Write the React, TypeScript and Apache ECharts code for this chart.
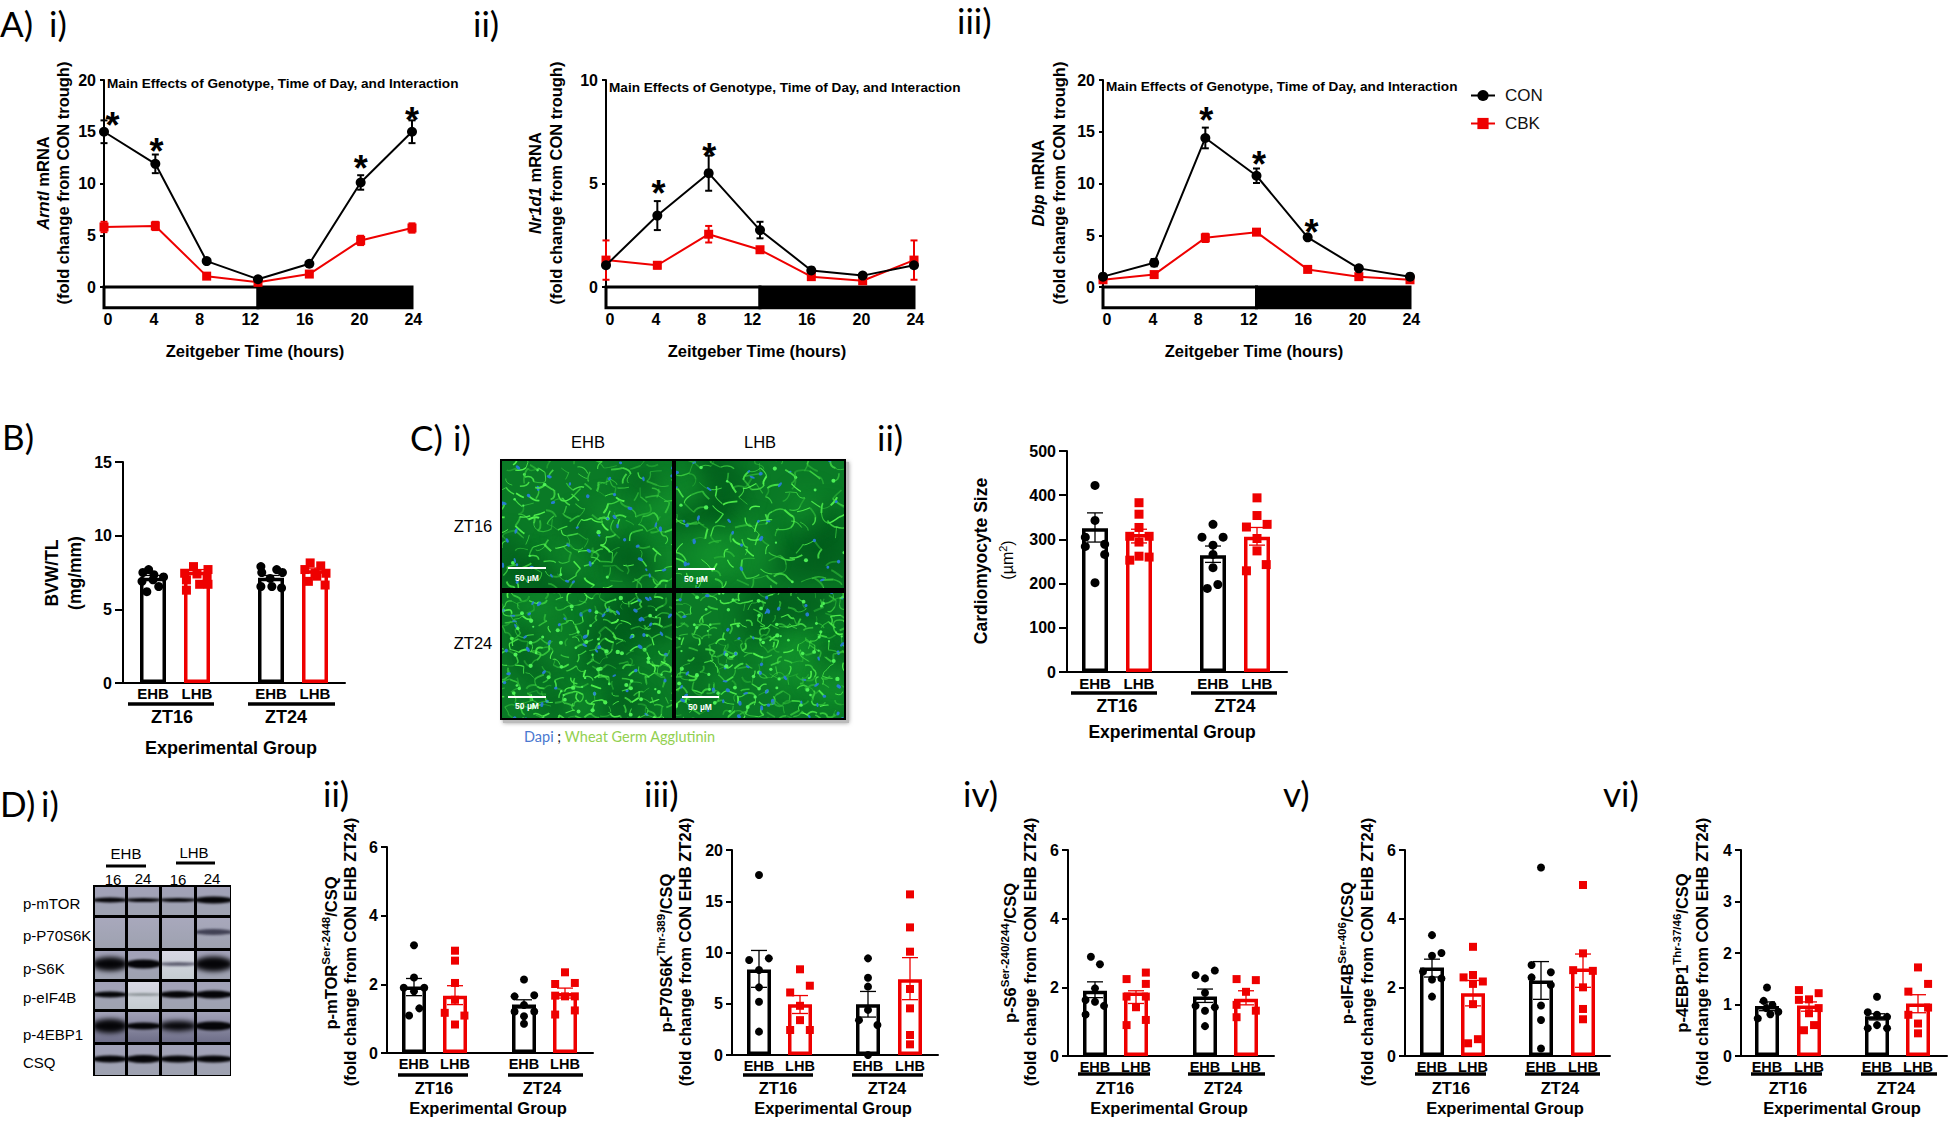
import React, { useEffect, useRef } from "react";
import * as echarts from "echarts";

const BLACK = "#000000";
const RED = "#ee0000";
const SANS = "'Liberation Sans', Arial, sans-serif";
const LABEL_FONT = "Lato, 'Noto Sans', sans-serif";

/* ---------- data: circadian time courses ---------- */
const zeitgeberHours = [0, 4, 8, 12, 16, 20, 24];
const zeitgeberLabels = ["0", "4", "8", "12", "16", "20", "24"];
const zeitgeberLabelAt = [0.3, 3.9, 7.45, 11.4, 15.65, 19.9, 24.1];
const lightDark = [[0, 12, 0], [12, 24, 1]];

const arntlCon = [15, 11.9, 2.5, 0.75, 2.25, 10.1, 15];
const arntlConErr = [1.1, 0.9, 0.2, 0.1, 0.2, 0.7, 1.1];
const arntlCbk = [5.8, 5.9, 1.05, 0.45, 1.25, 4.5, 5.7];
const arntlCbkErr = [0.5, 0.4, 0.1, 0.05, 0.1, 0.45, 0.45];
const arntlStars = [[0.67, 16.4], [4.1, 13.9], [20, 12.25], [24, 16.9]];

const nr1d1Con = [1.05, 3.45, 5.5, 2.75, 0.8, 0.55, 1.05];
const nr1d1ConErr = [0.1, 0.7, 0.85, 0.4, 0.1, 0.1, 0.1];
const nr1d1Cbk = [1.3, 1.05, 2.55, 1.8, 0.5, 0.3, 1.3];
const nr1d1CbkErr = [0.95, 0.15, 0.4, 0.1, 0.1, 0.1, 0.95];
const nr1d1Stars = [[4.1, 4.9], [8.05, 6.7]];

const dbpCon = [1, 2.35, 14.4, 10.75, 4.8, 1.8, 1];
const dbpConErr = [0.1, 0.35, 1, 0.7, 0.1, 0.1, 0.1];
const dbpCbk = [0.7, 1.2, 4.75, 5.3, 1.7, 1.0, 0.7];
const dbpCbkErr = [0.1, 0.1, 0.4, 0.1, 0.1, 0.1, 0.1];
const dbpStars = [[8.08, 16.9], [12.2, 12.6], [16.3, 6.05]];

/* ---------- data: bar panels ---------- */
const barLabels = ["EHB", "LHB", "EHB", "LHB"];

const bvwMeans = [7.15, 7.55, 7.15, 7.65];
const bvwLow = [7.0, 7.4, 7.0, 7.5];
const bvwHigh = [7.3, 7.7, 7.3, 7.8];
const bvwEhb16 = [[-0.23, 7.5], [-0.1, 7.7], [0.02, 7.35], [0.24, 7.2], [-0.14, 6.2], [0.13, 6.55], [-0.25, 6.9], [0, 7.0]];
const bvwLhb16 = [[-0.08, 7.9], [0.25, 7.7], [-0.28, 7.45], [0, 7.4], [0.23, 7.25], [-0.24, 6.3], [0.06, 6.7], [0.25, 6.7], [-0.24, 7.0]];
const bvwEhb24 = [[-0.23, 7.9], [-0.21, 7.5], [0.13, 7.7], [0.26, 7.5], [-0.23, 6.55], [0.02, 6.55], [0.24, 6.45], [-0.02, 7.1]];
const bvwLhb24 = [[-0.11, 8.15], [0.13, 7.95], [-0.23, 7.7], [0.25, 7.45], [-0.15, 6.9], [0.04, 7.25], [0.23, 6.65], [0, 7.45]];

const sizeMeans = [325, 312, 264, 306];
const sizeLow = [294, 292, 248, 287];
const sizeHigh = [360, 323, 285, 327];
const sizeEhb16 = [[0, 422], [0, 343], [-0.22, 305], [-0.22, 284], [0.22, 289], [0.22, 266], [0, 202]];
const sizeLhb16 = [[0, 383], [0, 357], [0, 327], [-0.21, 307], [0, 294], [0.23, 307], [0, 262], [-0.21, 253], [0.23, 260]];
const sizeEhb24 = [[0, 334], [-0.25, 305], [0.23, 305], [0, 287], [0, 266], [0, 236], [0.11, 198], [-0.13, 189]];
const sizeLhb24 = [[0, 394], [0, 354], [-0.24, 328], [0.23, 334], [0, 302], [0, 274], [0.21, 243], [-0.24, 229]];

const mtorMeans = [1.94, 1.67, 1.41, 1.75];
const mtorLow = [1.67, 1.41, 1.31, 1.6];
const mtorHigh = [2.17, 1.96, 1.55, 1.89];
const mtorEhb16 = [[0, 3.14], [0, 2.2], [-0.25, 1.9], [0.25, 1.9], [0, 1.8], [0.13, 1.3], [-0.12, 1.09]];
const mtorLhb16 = [[0, 2.98], [0, 2.69], [0, 2.04], [0, 1.55], [-0.25, 1.17], [0.23, 1.09], [0, 0.83]];
const mtorEhb24 = [[0, 2.14], [-0.23, 1.65], [0.25, 1.68], [0, 1.4], [-0.23, 1.21], [0.25, 1.21], [0, 1.07], [0, 0.85]];
const mtorLhb24 = [[0, 2.35], [-0.24, 2.01], [0.24, 2.04], [0, 1.65], [-0.24, 1.67], [0.24, 1.65], [-0.24, 1.12], [0.24, 1.24]];

const p70Means = [8.35, 4.95, 4.95, 7.4];
const p70Low = [6.6, 4.05, 3.7, 5.4];
const p70High = [10.2, 5.8, 6.2, 9.5];
const p70Ehb16 = [[0, 17.56], [-0.24, 9.27], [0.24, 9.43], [0, 8.3], [0, 6.6], [0, 5.2], [0, 2.28]];
const p70Lhb16 = [[0, 8.36], [0.24, 6.76], [-0.24, 6.1], [0, 4.8], [0, 3.4], [-0.24, 2.44], [0.24, 2.44]];
const p70Ehb24 = [[0, 9.43], [0, 7.54], [0, 6.67], [0, 4.4], [-0.22, 3.4], [0.23, 2.93], [0, 0]];
const p70Lhb24 = [[0, 15.67], [0, 12.45], [0, 10.08], [0, 6.44], [0, 4.55], [0, 1.95], [0, 1.04]];

const s6Means = [1.9, 1.85, 1.73, 1.67];
const s6Low = [1.7, 1.53, 1.56, 1.49];
const s6High = [2.16, 1.9, 1.95, 1.9];
const s6Ehb16 = [[-0.1, 2.89], [0.12, 2.67], [0, 1.97], [-0.23, 1.63], [0, 1.58], [0.22, 1.46], [-0.23, 1.21]];
const s6Lhb16 = [[0.24, 2.43], [-0.23, 2.24], [0.24, 2.1], [-0.23, 1.73], [0.24, 1.73], [0, 1.42], [-0.23, 0.9], [0.24, 1.05]];
const s6Ehb24 = [[0.24, 2.49], [-0.23, 2.36], [0, 2.26], [0, 1.84], [-0.23, 1.46], [0.24, 1.42], [0, 1.32], [0, 0.87]];
const s6Lhb24 = [[-0.23, 2.24], [0.24, 2.21], [0, 1.87], [-0.23, 1.49], [0.24, 1.32], [-0.23, 1.13]];

const eifMeans = [2.58, 1.83, 2.2, 2.55];
const eifLow = [2.3, 1.46, 1.65, 2.0];
const eifHigh = [2.82, 2.2, 2.75, 2.97];
const eifEhb16 = [[0, 3.52], [0, 2.92], [0.23, 3.0], [-0.22, 2.46], [0, 2.23], [0.23, 2.26], [0, 1.73]];
const eifLhb16 = [[0, 3.18], [-0.23, 2.29], [0, 2.36], [0.24, 2.17], [0, 2.1], [0, 1.51], [0.12, 0.49], [-0.12, 0.37]];
const eifEhb24 = [[0, 5.49], [-0.23, 2.65], [0.24, 2.44], [-0.23, 2.29], [0.24, 2.07], [0, 1.47], [0, 1.05], [0, 0.22]];
const eifLhb24 = [[0, 4.98], [0, 2.99], [-0.24, 2.5], [0.24, 2.48], [0, 2.0], [0, 1.37], [0, 1.07]];

const ebpMeans = [0.97, 0.98, 0.77, 1.02];
const ebpLow = [0.88, 0.87, 0.7, 0.84];
const ebpHigh = [1.05, 1.05, 0.82, 1.19];
const ebpEhb16 = [[0, 1.33], [-0.08, 1.07], [0.13, 0.99], [-0.22, 0.73], [0.08, 0.81], [-0.02, 0.93], [0.27, 0.86]];
const ebpLhb16 = [[-0.24, 1.28], [0.23, 1.22], [-0.24, 1.09], [0, 1.1], [0.23, 0.93], [0, 0.83], [0.12, 0.6], [-0.12, 0.5]];
const ebpEhb24 = [[0, 1.15], [-0.22, 0.85], [0, 0.8], [0.24, 0.76], [-0.22, 0.54], [0, 0.6], [0.24, 0.54]];
const ebpLhb24 = [[0, 1.72], [0.24, 1.4], [-0.23, 1.25], [0.24, 0.94], [-0.23, 0.8], [0, 0.63], [0, 0.44]];

/* ---------- western blot appearance: band thickness per row and lane ---------- */
const blotNames = ["p-mTOR", "p-P70S6K", "p-S6K", "p-eIF4B", "p-4EBP1", "CSQ"];
const blotBands = [
  [4, 3, 3, 6],
  [0, 0, 0, 5],
  [13, 8, 3, 14],
  [5, 1, 6, 7],
  [13, 6, 9, 8],
  [6, 7, 6, 6],
];

/* ---------- layouts ---------- */
const lineLayouts = [
  {
    left: 104, right: 412, top: 80, zero: 287, yMax: 20, yInt: 5, low: -2,
    con: arntlCon, conErr: arntlConErr, cbk: arntlCbk, cbkErr: arntlCbkErr, stars: arntlStars,
    effect: [107, 83], gene: "Arntl", t1: 43, t2: 63, tx: 255,
  },
  {
    left: 606, right: 914, top: 80, zero: 287, yMax: 10, yInt: 5, low: -1,
    con: nr1d1Con, conErr: nr1d1ConErr, cbk: nr1d1Cbk, cbkErr: nr1d1CbkErr, stars: nr1d1Stars,
    effect: [609, 87], gene: "Nr1d1", t1: 535, t2: 556, tx: 757,
  },
  {
    left: 1103, right: 1410, top: 80, zero: 287, yMax: 20, yInt: 5, low: -2,
    con: dbpCon, conErr: dbpConErr, cbk: dbpCbk, cbkErr: dbpCbkErr, stars: dbpStars,
    effect: [1106, 86], gene: "Dbp", t1: 1038, t2: 1059, tx: 1254,
  },
];

const barLayouts = [
  {
    axisX: 123, axisEnd: 345, top: 462, zero: 683, yMax: 15, yInt: 5, barW: 26, sym: 9, centers: [153, 197, 271, 315],
    means: bvwMeans, low: bvwLow, high: bvwHigh, points: [bvwEhb16, bvwLhb16, bvwEhb24, bvwLhb24],
    tickFont: 15, tick: 8, margin: 11, labelGap: 3, groupLines: [[128, 214], [248, 335]], lineY: 704, groupX: [172, 286], groupY: 717, expX: 231, expY: 748, fs: 18,
  },
  {
    axisX: 1067, axisEnd: 1287, top: 451, zero: 672, yMax: 500, yInt: 100, barW: 26, sym: 9, centers: [1095, 1139, 1213, 1257],
    means: sizeMeans, low: sizeLow, high: sizeHigh, points: [sizeEhb16, sizeLhb16, sizeEhb24, sizeLhb24],
    tickFont: 15, tick: 8, margin: 11, labelGap: 4, groupLines: [[1071, 1157], [1191, 1277]], lineY: 693, groupX: [1117, 1235], groupY: 706, expX: 1172, expY: 732, fs: 17.5,
  },
  {
    axisX: 387, axisEnd: 593, top: 847, zero: 1053, yMax: 6, yInt: 2, barW: 24, sym: 8, centers: [414, 455, 524, 565],
    means: mtorMeans, low: mtorLow, high: mtorHigh, points: [mtorEhb16, mtorLhb16, mtorEhb24, mtorLhb24],
    tickFont: 14.5, tick: 6, margin: 9, labelGap: 3, groupLines: [[398, 468], [508, 583]], lineY: 1075, groupX: [434, 542], groupY: 1088, expX: 488, expY: 1108, fs: 16.5,
    title: ["p-mTOR", "Ser-2448", "/CSQ"], t1: 331, t2: 350,
  },
  {
    axisX: 732, axisEnd: 938, top: 850, zero: 1055, yMax: 20, yInt: 5, barW: 24, sym: 8, centers: [759, 800, 868, 910],
    means: p70Means, low: p70Low, high: p70High, points: [p70Ehb16, p70Lhb16, p70Ehb24, p70Lhb24],
    tickFont: 14.5, tick: 6, margin: 9, labelGap: 3, groupLines: [[743, 813], [852, 923]], lineY: 1075, groupX: [778, 887], groupY: 1088, expX: 833, expY: 1108, fs: 16.5,
    title: ["p-P70S6K", "Thr-389", "/CSQ"], t1: 666, t2: 685,
  },
  {
    axisX: 1068, axisEnd: 1274, top: 850, zero: 1056, yMax: 6, yInt: 2, barW: 24, sym: 8, centers: [1095, 1136, 1205, 1246],
    means: s6Means, low: s6Low, high: s6High, points: [s6Ehb16, s6Lhb16, s6Ehb24, s6Lhb24],
    tickFont: 14.5, tick: 6, margin: 9, labelGap: 3, groupLines: [[1078, 1150], [1188, 1265]], lineY: 1074, groupX: [1115, 1223], groupY: 1088, expX: 1169, expY: 1108, fs: 16.5,
    title: ["p-S6", "Ser-240/244", "/CSQ"], t1: 1010, t2: 1030,
  },
  {
    axisX: 1405, axisEnd: 1610, top: 850, zero: 1056, yMax: 6, yInt: 2, barW: 24, sym: 8, centers: [1432, 1473, 1541, 1583],
    means: eifMeans, low: eifLow, high: eifHigh, points: [eifEhb16, eifLhb16, eifEhb24, eifLhb24],
    tickFont: 14.5, tick: 6, margin: 9, labelGap: 3, groupLines: [[1415, 1486], [1525, 1600]], lineY: 1074, groupX: [1451, 1560], groupY: 1088, expX: 1505, expY: 1108, fs: 16.5,
    title: ["p-eIF4B", "Ser-406", "/CSQ"], t1: 1347, t2: 1367,
  },
  {
    axisX: 1741, axisEnd: 1947, top: 850, zero: 1056, yMax: 4, yInt: 1, barW: 24, sym: 8, centers: [1767, 1809, 1877, 1918],
    means: ebpMeans, low: ebpLow, high: ebpHigh, points: [ebpEhb16, ebpLhb16, ebpEhb24, ebpLhb24],
    tickFont: 14.5, tick: 6, margin: 9, labelGap: 3, groupLines: [[1751, 1822], [1861, 1937]], lineY: 1074, groupX: [1788, 1896], groupY: 1088, expX: 1842, expY: 1108, fs: 16.5,
    title: ["p-4EBP1", "Thr-37/46", "/CSQ"], t1: 1682, t2: 1702,
  },
];

const panelTags: [string, number, number][] = [
  ["A)", 0, 23], ["i)", 49, 23], ["ii)", 473, 23], ["iii)", 957, 20],
  ["B)", 2, 436], ["C)", 410, 437], ["i)", 453, 437], ["ii)", 877, 437],
  ["D)", 0, 803], ["i)", 41, 803], ["ii)", 323, 793], ["iii)", 644, 793],
  ["iv)", 963, 793], ["v)", 1283, 793], ["vi)", 1603, 793],
];

/* ---------- procedural stand-ins for the two photographs ---------- */
function makeHistology() {
  const W = 346, H = 261;
  const c = document.createElement("canvas");
  c.width = W; c.height = H;
  const g = c.getContext("2d") as CanvasRenderingContext2D;
  g.fillStyle = "#000";
  g.fillRect(0, 0, W, H);
  let seed = 91;
  const next = () => { seed = (seed * 16807) % 2147483647; return seed / 2147483647; };
  const tiles = [[2, 2, 170, 127, 0, 21, 16], [176, 2, 168, 127, 0, 24, 18], [2, 134, 170, 125, 1, 18, 13], [176, 134, 168, 125, 1, 18, 13]];
  tiles.forEach(([x, y, w, h, dense, cw, ch]) => {
    g.save();
    g.beginPath(); g.rect(x, y, w, h); g.clip();
    g.fillStyle = "#0a7a26";
    g.fillRect(x, y, w, h);
    g.filter = "blur(10px)";
    for (let i = 0; i < 14; i++) {
      g.fillStyle = next() > 0.5 ? "rgba(0,85,25,0.55)" : "rgba(20,150,45,0.5)";
      g.beginPath();
      g.arc(x + next() * w, y + next() * h, 12 + next() * 20, 0, Math.PI * 2);
      g.fill();
    }
    g.filter = "blur(0.7px)";
    const lean = next() * 1.2 - 0.6;
    for (let row = -1; row <= h / ch + 1; row++) {
      for (let col = -1; col <= w / cw + 1; col++) {
        const cx = x + (col + (row % 2 ? 0.5 : 0)) * cw + (next() - 0.5) * 10;
        const cy = y + row * ch + (next() - 0.5) * 8;
        const verts: number[][] = [];
        for (let k = 0; k < 6; k++) {
          const a = (k / 6) * Math.PI * 2 + lean;
          const r = 0.7 + next() * 0.5;
          verts.push([cx + Math.cos(a) * r * cw * 0.56, cy + Math.sin(a) * r * ch * 0.58]);
        }
        for (let k = 0; k < 6; k++) {
          if (next() < 0.45) continue;
          const p = verts[k], q = verts[(k + 1) % 6];
          g.beginPath();
          g.moveTo(p[0], p[1]);
          g.quadraticCurveTo((p[0] + q[0]) / 2 + (next() - 0.5) * 9, (p[1] + q[1]) / 2 + (next() - 0.5) * 9, q[0], q[1]);
          const v = next();
          g.strokeStyle = `rgba(${45 + v * 40},${185 + v * 65},${55 + v * 25},${0.5 + v * 0.45})`;
          g.lineWidth = 0.8 + next() * 1.2;
          g.stroke();
        }
        if (next() < (dense ? 0.7 : 0.28)) {
          const p = verts[Math.floor(next() * 6)];
          g.beginPath();
          g.arc(p[0], p[1], 1 + next() * 1.2, 0, Math.PI * 2);
          g.fillStyle = "rgba(80,245,90,0.95)";
          g.fill();
        }
        if (next() < 0.5) {
          const p = verts[Math.floor(next() * 6)];
          g.beginPath();
          g.ellipse(p[0], p[1], 1.5 + next() * 1.4, 1 + next() * 0.9, next() * 3, 0, Math.PI * 2);
          g.fillStyle = "rgba(40,125,215,0.95)";
          g.fill();
        }
      }
    }
    g.restore();
  });
  return c.toDataURL("image/png");
}

function makeBlot() {
  const W = 138, H = 191;
  const c = document.createElement("canvas");
  c.width = W; c.height = H;
  const g = c.getContext("2d") as CanvasRenderingContext2D;
  g.fillStyle = "#000";
  g.fillRect(0, 0, W, H);
  const rows = [0, 31, 64, 95, 125, 158, 191];
  const cols = [0, 33, 67, 102, 138];
  blotBands.forEach((row, r) => {
    row.forEach((t, l) => {
      const x = cols[l] + 2, y = rows[r] + 2, w = cols[l + 1] - cols[l] - 3, h = rows[r + 1] - rows[r] - 3;
      g.save();
      g.beginPath(); g.rect(x, y, w, h); g.clip();
      const light = (r === 2 && l === 2) || (r === 3 && l === 1);
      const grad = g.createLinearGradient(0, y, 0, y + h);
      grad.addColorStop(0, light ? "#d8d8e4" : r === 1 ? "#a8a8bc" : "#a2a2b8");
      grad.addColorStop(1, light ? "#c4ccd0" : r === 4 ? "#6e6e88" : "#9ea2b0");
      g.fillStyle = grad;
      g.fillRect(x, y, w, h);
      if (t > 0) {
        g.filter = t > 8 ? "blur(2.5px)" : "blur(1.2px)";
        g.fillStyle = t <= 1 ? "rgba(90,100,100,0.8)" : t === 3 && r === 2 ? "rgba(70,70,90,0.8)" : r === 1 ? "rgba(40,40,60,0.8)" : "#050508";
        g.beginPath();
        g.ellipse(x + w / 2, y + h / 2 - 1, w / 2 + 3, t / 2 + 0.5, 0, 0, Math.PI * 2);
        g.fill();
      }
      g.restore();
    });
  });
  return c.toDataURL("image/png");
}

/* ---------- graphic helpers ---------- */
function txt(text: string, x: number, y: number, o: any = {}) {
  return {
    type: "text", x, y, rotation: o.rotation || 0, silent: true, z: 10,
    style: {
      text, x: 0, y: 0,
      align: o.align || "center", verticalAlign: "middle",
      fontFamily: o.family || SANS, fontSize: o.size || 15, fontWeight: o.weight || "bold",
      fill: o.color || BLACK, rich: o.rich,
    },
  };
}
function hline(x1: number, x2: number, y: number, w = 3.5, color = BLACK) {
  return { type: "line", silent: true, z: 10, shape: { x1, y1: y, x2, y2: y }, style: { stroke: color, lineWidth: w } };
}
const UP = Math.PI / 2;
const TITLE_SIZE = 16.5;
const boldStyle = { fontFamily: SANS, fontWeight: "bold", fontSize: TITLE_SIZE, fill: BLACK };

function buildGraphics() {
  const els: any[] = [];
  panelTags.forEach(([t, x, y]) => els.push(txt(t, x, y, { align: "left", size: 35, weight: "normal", family: LABEL_FONT })));

  lineLayouts.forEach((p) => {
    els.push(txt("Main Effects of Genotype, Time of Day, and Interaction", p.effect[0], p.effect[1], { align: "left", size: 13.6 }));
    els.push(txt(`{i|${p.gene}}{b| mRNA}`, p.t1, 183, {
      rotation: UP,
      rich: { i: { ...boldStyle, fontStyle: "italic" }, b: boldStyle },
    }));
    els.push(txt("(fold change from CON trough)", p.t2, 183, { rotation: UP, size: TITLE_SIZE }));
    els.push(txt("Zeitgeber Time (hours)", p.tx, 351, { size: TITLE_SIZE }));
  });

  barLayouts.forEach((p: any) => {
    p.groupLines.forEach((g: number[], i: number) => {
      els.push(hline(g[0], g[1], p.lineY));
      els.push(txt(i === 0 ? "ZT16" : "ZT24", p.groupX[i], p.groupY, { size: p.fs }));
    });
    els.push(txt("Experimental Group", p.expX, p.expY, { size: p.fs }));
    if (p.title) {
      els.push(txt(`{b|${p.title[0]}}{s|${p.title[1]}}{b|${p.title[2]}}`, p.t1, 953, {
        rotation: UP,
        rich: { b: boldStyle, s: { ...boldStyle, fontSize: 11.5, verticalAlign: "top", padding: [0, 0, 10, 0] } },
      }));
      els.push(txt("(fold change from CON EHB ZT24)", p.t2, 952, { rotation: UP, size: TITLE_SIZE }));
    }
  });

  // panel B and C ii axis titles
  els.push(txt("BVW/TL", 52, 573, { rotation: UP, size: 17.5 }));
  els.push(txt("(mg/mm)", 75, 573, { rotation: UP, size: 17.5 }));
  els.push(txt("Cardiomyocyte Size", 981, 561, { rotation: UP, size: 17.5 }));
  els.push(txt("{a|(}{m|\u00b5m}{s|2}{a|)}", 1007, 560, {
    rotation: UP,
    rich: {
      a: { ...boldStyle, fontWeight: "normal", fontSize: 16 },
      m: { ...boldStyle, fontWeight: "normal", fontSize: 16 },
      s: { ...boldStyle, fontWeight: "normal", fontSize: 11, verticalAlign: "top", padding: [0, 0, 9, 0] },
    },
  }));

  // panel C i: micrograph
  els.push({ type: "rect", silent: true, z: 4, shape: { x: 503, y: 462, width: 346, height: 261 }, style: { fill: "#bbbbbb", shadowBlur: 4, shadowColor: "#999" } });
  els.push({ type: "image", silent: true, z: 5, x: 500, y: 459, style: { image: makeHistology(), x: 0, y: 0, width: 346, height: 261 } });
  els.push(txt("EHB", 588, 442, { size: 16.5, weight: "normal" }));
  els.push(txt("LHB", 760, 442, { size: 16.5, weight: "normal" }));
  els.push(txt("ZT16", 473, 526, { size: 16.5, weight: "normal" }));
  els.push(txt("ZT24", 473, 643, { size: 16.5, weight: "normal" }));
  const scaleBars = [[508, 546, 568, 527, 578], [678, 715, 569, 696, 579], [508, 546, 697, 527, 706], [682, 719, 697, 700, 707]];
  scaleBars.forEach(([a, b, y, tx, ty]) => {
    els.push(hline(a, b, y, 2, "#ffffff"));
    els.push(txt("50 \u00b5M", tx, ty, { size: 8.5, color: "#ffffff" }));
  });
  els.push(txt("{d|Dapi}{k| ; }{w|Wheat Germ Agglutinin}", 524, 736, {
    align: "left",
    rich: {
      d: { fontFamily: LABEL_FONT, fontSize: 14.5, fill: "#4a78d0" },
      k: { fontFamily: LABEL_FONT, fontSize: 14.5, fill: "#222222" },
      w: { fontFamily: LABEL_FONT, fontSize: 14.5, fill: "#92d050" },
    },
  }));

  // panel D i: blot
  els.push({ type: "image", silent: true, z: 5, x: 93, y: 885, style: { image: makeBlot(), x: 0, y: 0, width: 138, height: 191 } });
  const blotY = [903, 935, 968, 997, 1034, 1062];
  blotNames.forEach((n, i) => els.push(txt(n, 23, blotY[i], { align: "left", size: 15, weight: "normal" })));
  els.push(txt("EHB", 126, 853, { size: 15, weight: "normal" }));
  els.push(txt("LHB", 194, 852, { size: 15, weight: "normal" }));
  els.push(hline(106, 146, 866, 3));
  els.push(hline(176, 215, 863, 3));
  [[113, 879, "16"], [143, 878, "24"], [178, 879, "16"], [212, 878, "24"]].forEach(([x, y, s]) =>
    els.push(txt(s as string, x as number, y as number, { size: 15, weight: "normal" })));
  return els;
}

/* ---------- series helpers ---------- */
const errorBars = (grid: number, rows: number[][], color: string, cap: number, w: number) => ({
  type: "custom", xAxisIndex: grid, yAxisIndex: grid, clip: false, z: 3, silent: true, data: rows,
  encode: { x: 0, y: [1, 2] },
  renderItem: (_: any, api: any) => {
    const x = api.value(0);
    const a = api.coord([x, api.value(1)]);
    const b = api.coord([x, api.value(2)]);
    const style = { stroke: color, lineWidth: w, fill: "none" };
    return {
      type: "group", children: [
        { type: "line", shape: { x1: a[0], y1: a[1], x2: b[0], y2: b[1] }, style },
        { type: "line", shape: { x1: a[0] - cap, y1: a[1], x2: a[0] + cap, y2: a[1] }, style },
        { type: "line", shape: { x1: b[0] - cap, y1: b[1], x2: b[0] + cap, y2: b[1] }, style },
      ],
    };
  },
});

const yAxisBase = (grid: number, yMax: number, yInt: number, tick: number, margin: number) => ({
  type: "value", gridIndex: grid, min: 0, max: yMax, interval: yInt, position: "left",
  splitLine: { show: false },
  axisLine: { show: true, onZero: false, lineStyle: { color: BLACK, width: 2 } },
  axisTick: { show: true, length: tick, lineStyle: { color: BLACK, width: 2 } },
  axisLabel: { color: BLACK, fontFamily: SANS, fontWeight: "bold", fontSize: 16, margin },
});

function buildOption() {
  const grid: any[] = [], xAxis: any[] = [], yAxis: any[] = [], series: any[] = [];
  lineLayouts.forEach((p) => {
    const i = grid.length;
    const unit = (p.right - p.left) / 24;
    grid.push({ left: p.left, top: p.top, width: unit * 25, height: p.zero - p.top });
    xAxis.push({
      type: "value", gridIndex: i, min: 0, max: 25, splitLine: { show: false },
      axisLine: { show: false, onZero: false }, axisTick: { show: false },
      axisLabel: {
        customValues: zeitgeberLabelAt, color: BLACK, fontFamily: SANS, fontWeight: "bold", fontSize: 16, margin: 24,
        formatter: (v: number) => zeitgeberLabels[zeitgeberLabelAt.indexOf(v)],
      },
    });
    yAxis.push(yAxisBase(i, p.yMax, p.yInt, 4, 8));
    series.push({
      type: "custom", xAxisIndex: i, yAxisIndex: i, clip: false, z: 1, silent: true, data: lightDark,
      encode: { x: [0, 1] },
      renderItem: (_: any, api: any) => {
        const a = api.coord([api.value(0), 0]);
        const b = api.coord([api.value(1), p.low]);
        return {
          type: "rect",
          shape: { x: a[0], y: a[1], width: b[0] - a[0], height: b[1] - a[1] },
          style: { fill: api.value(2) ? BLACK : "#ffffff", stroke: BLACK, lineWidth: 3 },
        };
      },
    });
    series.push(errorBars(i, zeitgeberHours.map((h, k) => [h, p.con[k] - p.conErr[k], p.con[k] + p.conErr[k]]), BLACK, 3.5, 2));
    series.push(errorBars(i, zeitgeberHours.map((h, k) => [h, p.cbk[k] - p.cbkErr[k], p.cbk[k] + p.cbkErr[k]]), RED, 3.5, 2));
    series.push({
      name: "CBK", type: "line", xAxisIndex: i, yAxisIndex: i, clip: false, z: 4, symbol: "rect", symbolSize: 9,
      lineStyle: { color: RED, width: 2 }, itemStyle: { color: RED },
      data: zeitgeberHours.map((h, k) => [h, p.cbk[k]]),
    });
    series.push({
      name: "CON", type: "line", xAxisIndex: i, yAxisIndex: i, clip: false, z: 5, symbol: "circle", symbolSize: 10,
      lineStyle: { color: BLACK, width: 2 }, itemStyle: { color: BLACK },
      data: zeitgeberHours.map((h, k) => [h, p.con[k]]),
    });
    series.push({
      type: "scatter", xAxisIndex: i, yAxisIndex: i, clip: false, z: 6, symbolSize: 0, silent: true,
      itemStyle: { opacity: 1 },
      data: p.stars,
      label: {
        show: true, position: "inside", formatter: "*", color: BLACK, opacity: 1, offset: [0, 8],
        fontFamily: SANS, fontWeight: "bold", fontSize: 36,
      },
    });
  });

  barLayouts.forEach((p) => {
    const i = grid.length;
    const u = p.centers[1] - p.centers[0];
    const slots = p.centers.map((c) => (c - p.centers[0]) / u);
    grid.push({ left: p.axisX, top: p.top, width: p.axisEnd - p.axisX, height: p.zero - p.top });
    xAxis.push({
      type: "value", gridIndex: i, min: (p.axisX - p.centers[0]) / u, max: (p.axisEnd - p.centers[0]) / u,
      splitLine: { show: false }, axisTick: { show: false },
      axisLine: { show: true, onZero: false, lineStyle: { color: BLACK, width: 2 } },
      axisLabel: {
        customValues: slots, color: BLACK, fontFamily: SANS, fontWeight: "bold", fontSize: p.tickFont, margin: p.labelGap,
        formatter: (v: number) => barLabels[slots.indexOf(v)],
      },
    });
    yAxis.push(yAxisBase(i, p.yMax, p.yInt, p.tick, p.margin));
    series.push({
      type: "bar", xAxisIndex: i, yAxisIndex: i, barWidth: p.barW, z: 2, silent: true, clip: false,
      data: slots.map((s, k) => ({
        value: [s, p.means[k]],
        itemStyle: { color: "rgba(255,255,255,0)", borderColor: k % 2 ? RED : BLACK, borderWidth: 3.5 },
      })),
    });
    [0, 1].forEach((odd) => {
      const idx = odd ? [1, 3] : [0, 2];
      const color = odd ? RED : BLACK;
      const pts: number[][] = [];
      idx.forEach((k) => p.points[k].forEach(([dx, v]) => pts.push([slots[k] + dx, v])));
      series.push({
        type: "scatter", xAxisIndex: i, yAxisIndex: i, clip: false, z: 3, silent: true,
        symbol: odd ? "rect" : "circle", symbolSize: p.sym, itemStyle: { color, opacity: 1 }, data: pts,
      });
      series.push(errorBars(i, idx.map((k) => [slots[k], p.low[k], p.high[k]]), color, 8, 1.3));
    });
  });

  return {
    animation: false,
    backgroundColor: "#ffffff",
    grid, xAxis, yAxis, series,
    legend: {
      left: 1465, top: 82, orient: "vertical", itemGap: 11, itemWidth: 24, itemHeight: 14, selectedMode: false,
      data: ["CON", "CBK"],
      textStyle: { fontFamily: SANS, fontSize: 17, color: "#111111", padding: [0, 0, 0, 5] },
    },
    graphic: { elements: buildGraphics() },
  };
}

export default function App() {
  const ref = useRef<HTMLDivElement>(null);
  useEffect(() => {
    document.body.style.margin = "0";
    const chart = echarts.init(ref.current as HTMLDivElement, undefined, { renderer: "svg" });
    chart.setOption(buildOption() as any);
    return () => chart.dispose();
  }, []);
  return <div ref={ref} style={{ position: "absolute", left: 0, top: 0, width: 1950, height: 1122, background: "#fff" }} />;
}
